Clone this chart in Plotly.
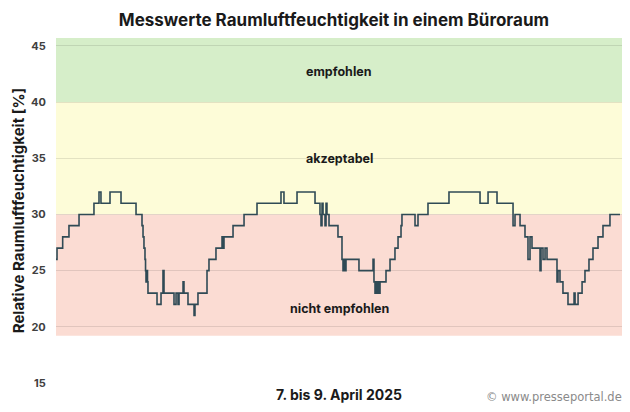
import plotly.graph_objects as go

# Time in hours since 7 April 2025 00:00, humidity in %
hours = [0.0, 0.13, 0.85, 1.65, 2.93, 4.83, 5.47, 5.72, 6.87, 8.27, 10.18, 10.94, 11.07, 11.19,
         11.32, 11.39, 11.45, 11.58, 11.64, 11.70, 12.85, 13.36, 13.61, 13.74, 15.01, 15.27,
         15.52, 15.65, 16.16, 16.28, 16.79, 17.56, 17.68, 18.06, 19.21, 19.46, 20.35, 21.12,
         21.24, 21.37, 22.52, 23.92, 25.57, 28.62, 29.00, 30.66, 32.95, 33.58, 33.71, 33.84,
         33.97, 34.22, 34.35, 34.47, 34.73, 35.87, 36.38, 36.51, 36.64, 36.76, 36.89, 38.54,
         40.33, 40.45, 40.58, 40.71, 40.83, 40.96, 41.09, 41.22, 41.98, 42.49, 43.12, 43.51,
         43.89, 44.01, 45.67, 46.05, 47.32, 49.99, 53.94, 54.96, 56.10, 58.14, 58.39, 59.03,
         59.66, 60.04, 60.30, 60.55, 61.57, 61.70, 61.95, 62.21, 62.46, 63.73, 63.86, 64.11,
         64.49, 65.13, 65.90, 66.03, 66.41, 66.92, 67.29, 67.80, 68.31, 68.95, 69.58, 70.47,
         71.75]
humidity = [26, 27, 28, 29, 30, 31, 32, 31, 32, 31, 30, 29, 28, 27,
            26, 25, 24, 25, 24, 23, 22, 23, 25, 23, 22, 23,
            22, 23, 24, 23, 22, 21, 22, 23, 25, 26, 27, 28,
            27, 28, 29, 30, 31, 32, 31, 32, 31, 30, 29, 31,
            30, 29, 31, 30, 29, 28, 26, 25, 26, 25, 26, 25,
            26, 24, 23, 24, 23, 24, 23, 24, 25, 26, 27, 28,
            29, 30, 29, 30, 31, 32, 31, 32, 31, 29, 30, 29,
            28, 26, 28, 27, 25, 27, 26, 27, 26, 24, 25, 24,
            23, 22, 23, 22, 23, 24, 25, 26, 27, 28, 29, 30,
            30]

band_labels = ["empfohlen", "akzeptabel", "nicht empfohlen"]
band_lower = [40, 30, 19.2]
band_upper = [45.7, 40, 30]
band_colors = ["rgb(214,238,201)", "rgb(253,252,216)", "rgb(251,220,211)"]
band_label_y = [42.7, 35.0, 21.6]

y_ticks = [15, 20, 25, 30, 35, 40, 45]

fig = go.Figure()
fig.add_trace(go.Scatter(x=hours, y=humidity, mode="lines", line_shape="hv",
                         line=dict(color="#2f4a55", width=1.6), showlegend=False,
                         hoverinfo="skip"))

for lo, hi, col in zip(band_lower, band_upper, band_colors):
    fig.add_shape(type="rect", xref="paper", yref="y", x0=0, x1=1, y0=lo, y1=hi,
                  fillcolor=col, line_width=0, layer="below")

for lab, ly in zip(band_labels, band_label_y):
    fig.add_annotation(x=0.5, xref="paper", y=ly, yref="y", text="<b>%s</b>" % lab,
                       showarrow=False, font=dict(family="Inter", size=12.5, color="#1a1a1a"))

fig.add_annotation(x=0.5, xref="paper", y=0, yref="paper", yanchor="top", yshift=-1,
                   text="<b>7. bis 9. April 2025</b>", showarrow=False,
                   font=dict(family="Inter", size=14, color="#1a1a1a"))
fig.add_annotation(x=1, xref="paper", y=0, yref="paper", yanchor="top", xanchor="right",
                   yshift=-5, xshift=2, text="© www.presseportal.de", showarrow=False,
                   font=dict(family="DejaVu Sans", size=11.5, color="#8a8a8a"))

fig.update_layout(
    width=630, height=412,
    margin=dict(l=56, r=8, t=38, b=29),
    paper_bgcolor="white", plot_bgcolor="white",
    title=dict(text="<b>Messwerte Raumluftfeuchtigkeit in einem Büroraum</b>",
               x=0.53, xanchor="center", y=0.952, yanchor="middle",
               font=dict(family="Inter", size=17, color="#1a1a1a")),
    xaxis=dict(range=[0, 72], showticklabels=False, showgrid=False, zeroline=False,
               showline=False, ticks=""),
    yaxis=dict(range=[15, 45.7], tickvals=y_ticks, showgrid=True,
               gridcolor="rgba(0,0,0,0.10)", gridwidth=1, zeroline=False,
               ticks="outside", ticklen=7, tickcolor="rgba(0,0,0,0)",
               tickfont=dict(family="Inter", size=11, color="#404040", weight="bold"),
               title=dict(text="<b>Relative Raumluftfeuchtigkeit [%]</b>", standoff=2,
                          font=dict(family="Inter", size=15, color="#1a1a1a"))),
)

fig.write_html("out.html", config={"displayModeBar": False},
               post_script="document.body.style.margin='0';")
